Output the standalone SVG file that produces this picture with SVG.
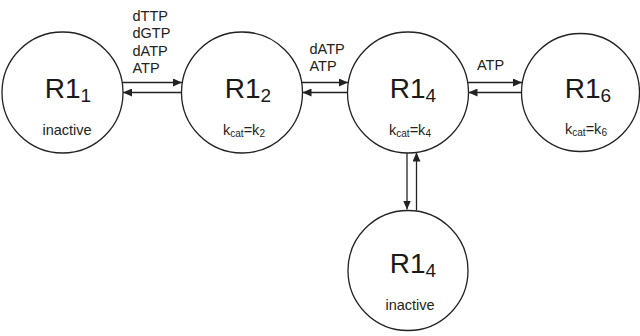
<svg xmlns="http://www.w3.org/2000/svg" width="640" height="336" viewBox="0 0 640 336">
  <style>
    .state { fill: #ffffff; stroke: #222222; stroke-width: 1.3; }
    .name { font-family: "Liberation Sans", Arial, sans-serif; font-size: 28px; fill: #1a1a1a; text-anchor: middle; }
    .sub { font-size: 19px; }
    .note { font-family: "Liberation Sans", Arial, sans-serif; font-size: 14.5px; fill: #222222; text-anchor: middle; }
    .note-sub { font-size: 10px; }
    .ligand { font-family: "Liberation Sans", Arial, sans-serif; font-size: 14.5px; fill: #222222; }
    .edge { stroke: #222222; stroke-width: 1.3; fill: none; marker-end: url(#head); }
  </style>
  <defs>
    <marker id="head" viewBox="0 0 9 8" refX="9" refY="4" markerWidth="9" markerHeight="8" markerUnits="userSpaceOnUse" orient="auto">
      <path d="M0,0 L9,4 L0,8 z" fill="#222222"/>
    </marker>
  </defs>
  <rect width="640" height="336" fill="#ffffff"/>

  <!-- connectors -->
  <g id="connectors">
    <line class="edge" x1="122" y1="82.5" x2="182" y2="82.5"/>
    <line class="edge" x1="181.5" y1="92.5" x2="123" y2="92.5"/>
    <line class="edge" x1="302" y1="82.5" x2="348" y2="82.5"/>
    <line class="edge" x1="348" y1="92.5" x2="302.5" y2="92.5"/>
    <line class="edge" x1="468" y1="82.5" x2="522" y2="82.5"/>
    <line class="edge" x1="521.5" y1="92.5" x2="468.5" y2="92.5"/>
    <line class="edge" x1="407" y1="153" x2="407" y2="209.5"/>
    <line class="edge" x1="416.5" y1="210.5" x2="416.5" y2="152.5"/>
    <text class="ligand" x="132.5" y="20.5">dTTP</text>
    <text class="ligand" x="132.5" y="38">dGTP</text>
    <text class="ligand" x="132.5" y="55.5">dATP</text>
    <text class="ligand" x="132.5" y="73">ATP</text>
    <text class="ligand" x="309.5" y="54">dATP</text>
    <text class="ligand" x="309.5" y="71">ATP</text>
    <text class="ligand" x="477" y="70">ATP</text>
  </g>

  <!-- R1 with one bound site, inactive -->
  <g id="r1-1">
    <circle class="state" cx="62.5" cy="92.5" r="60.5"/>
    <text class="name" x="68" y="98">R1<tspan class="sub" dy="4">1</tspan></text>
    <text class="note" x="67" y="135">inactive</text>
  </g>

  <!-- R1 dimer -->
  <g id="r1-2">
    <circle class="state" cx="242" cy="92.5" r="60.5"/>
    <text class="name" x="248" y="98">R1<tspan class="sub" dy="4">2</tspan></text>
    <text class="note" x="244" y="135">k<tspan class="note-sub" dy="2">cat</tspan><tspan dy="-2">=k</tspan><tspan class="note-sub" dy="2">2</tspan></text>
  </g>

  <!-- R1 tetramer -->
  <g id="r1-4">
    <circle class="state" cx="408" cy="92.5" r="60.5"/>
    <text class="name" x="413" y="98">R1<tspan class="sub" dy="4">4</tspan></text>
    <text class="note" x="410" y="135">k<tspan class="note-sub" dy="2">cat</tspan><tspan dy="-2">=k</tspan><tspan class="note-sub" dy="2">4</tspan></text>
  </g>

  <!-- R1 hexamer -->
  <g id="r1-6">
    <circle class="state" cx="580.5" cy="92.5" r="59"/>
    <text class="name" x="588" y="98">R1<tspan class="sub" dy="4">6</tspan></text>
    <text class="note" x="586" y="134">k<tspan class="note-sub" dy="2">cat</tspan><tspan dy="-2">=k</tspan><tspan class="note-sub" dy="2">6</tspan></text>
  </g>

  <!-- inactive R1 tetramer -->
  <g id="r1-4-inactive">
    <circle class="state" cx="408" cy="270.5" r="60"/>
    <text class="name" x="413" y="273">R1<tspan class="sub" dy="4">4</tspan></text>
    <text class="note" x="410" y="310">inactive</text>
  </g>
</svg>
